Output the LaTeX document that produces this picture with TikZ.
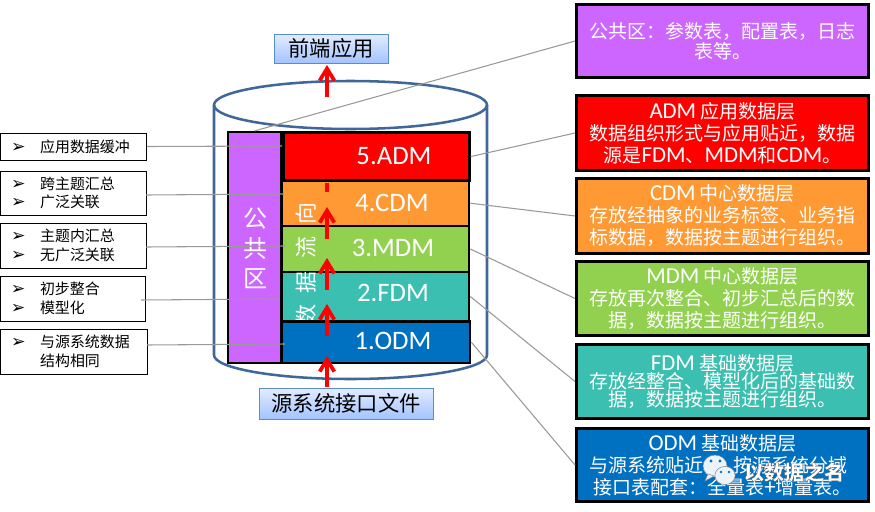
\documentclass[tikz,border=0pt]{standalone}
\usepackage{fontspec}
\usetikzlibrary{arrows.meta,shadows}
\setmainfont{Noto Sans CJK SC}
\newfontfamily\lat{Carlito}
\newfontfamily\latb[Scale=1.2]{Carlito}
\newfontfamily\dejavu{DejaVu Sans}
\newcommand{\bul}{\smash{\makebox[21.75pt][l]{\dejavu\fontsize{13pt}{9pt}\selectfont ➢}}}
\definecolor{cpurple}{HTML}{CC66FF}
\definecolor{cred}{HTML}{FF0000}
\definecolor{corange}{HTML}{FF9933}
\definecolor{cgreen}{HTML}{92D050}
\definecolor{cteal}{HTML}{3BBFB0}
\definecolor{cblue}{HTML}{0070C0}
\definecolor{cyl}{HTML}{3F6797}
\definecolor{gline}{HTML}{999999}
\definecolor{gtop}{HTML}{E2ECFF}
\definecolor{gbot}{HTML}{A3C4FF}
\definecolor{gedge}{HTML}{5B8CC8}
\tikzset{
  lay/.style={draw=black,line width=1.9pt,inner sep=0pt},
  laytext/.style={text=white,inner sep=0pt,font=\lat\fontsize{20pt}{22pt}\selectfont},
  info/.style={draw=black,line width=2.2pt,inner sep=0pt,text=white,align=center,minimum width=219pt,
     font=\fontsize{14.25pt}{16.5pt}\selectfont,
     drop shadow={shadow xshift=0.8pt,shadow yshift=-0.8pt,opacity=.35}},
  side/.style={draw=black,line width=0.75pt,inner xsep=8pt,inner ysep=0pt,align=left,
     font=\fontsize{11.2pt}{13.9pt}\selectfont},
  grad/.style={draw=gedge,line width=0.75pt,top color=gtop,bottom color=gbot,inner sep=0pt,text=black,
     font=\fontsize{16pt}{18pt}\selectfont,
     drop shadow={shadow xshift=0.8pt,shadow yshift=-0.8pt,opacity=.35}},
  flow/.style={draw=red,line width=2.8pt,-{Straight Barb[length=9pt,width=11pt]}},
  flowplain/.style={draw=red,line width=2.8pt},
  lead/.style={draw=gline,line width=0.8pt},
  cylline/.style={draw=cyl,line width=1.9pt},
}
\begin{document}
\begin{tikzpicture}[x=0.75pt,y=-0.75pt]
\useasboundingbox (0,0) rectangle (875,511);
% cylinder
\draw[cylline] (214,105) -- (214,355) arc[start angle=180,end angle=360,x radius=102.375pt,y radius=18pt] -- (487,105);
\draw[cylline] (350.5,105) ellipse[x radius=102.375pt,y radius=18pt];
% frontend and source boxes
\node[grad,minimum width=85.5pt,minimum height=21.75pt] (front) at (331,48.5) {前端应用};
\node[grad,minimum width=130.5pt,minimum height=23.25pt] (src) at (346,403.5) {源系统接口文件};
% public column
\node[draw=black,line width=1.6pt,fill=cpurple,minimum width=39.75pt,minimum height=173.25pt,inner sep=0pt] (pub) at (254.5,247.5) {};
\node[text=white,align=center,font=\fontsize{18pt}{22.5pt}\selectfont,inner sep=0pt] (pubt) at (255,248) {公\\共\\区};
% layers
\node[lay,fill=cred,minimum width=139.4pt,minimum height=35.9pt] (adm) at (376.4,156.6) {};
\node[lay,fill=corange,minimum width=140.6pt,minimum height=34.1pt] (cdm) at (375.3,203.2) {};
\node[lay,fill=cgreen,minimum width=140.6pt,minimum height=34.5pt] (mdm) at (375.3,249) {};
\node[lay,fill=cteal,minimum width=140.6pt,minimum height=36.7pt] (fdm) at (375.3,296.5) {};
% vertical flow text
\node[rotate=90,text=white,inner sep=0pt,font=\fontsize{16.5pt}{17pt}\selectfont] (flowt) at (306,264) {数\hspace{8.25pt}据\hspace{9.75pt}流\hspace{9pt}向};
\node[lay,fill=cblue,minimum width=141.4pt,minimum height=31.1pt] (odm) at (375.8,342.2) {};
\node[laytext] (admt) at (394,156) {5.ADM};
\node[laytext] (cdmt) at (392,203) {4.CDM};
\node[laytext] (mdmt) at (393,248) {3.MDM};
\node[laytext] (fdmt) at (393,293) {2.FDM};
\node[laytext] (odmt) at (393,341) {1.ODM};
% red arrows
\coordinate (a0) at (327,387);\coordinate (a1) at (327,356);
\coordinate (b0) at (327,336);\coordinate (b1) at (327,304);
\coordinate (c0) at (327,290);\coordinate (c1) at (327,258);
\coordinate (d0) at (327,239);\coordinate (d1) at (327,207);
\coordinate (e0) at (327,192);\coordinate (e1) at (327,182.5);
\coordinate (f0) at (327,97);\coordinate (f1) at (327,65);
\draw[flow] (a0) -- (a1);
\draw[flow] (b0) -- (b1);
\draw[flow] (c0) -- (c1);
\draw[flow] (d0) -- (d1);
\draw[flowplain] (e0) -- (e1);
\draw[flow] (f0) -- (f1);
% left boxes
\node[side,minimum width=109.5pt,minimum height=20.25pt,text width=93.5pt] (l1) at (73.5,146.5) {\bul 应用数据缓冲};
\node[side,minimum width=109.5pt,minimum height=33pt,text width=93.5pt] (l2) at (73.5,193) {\bul 跨主题汇总\\\bul 广泛关联};
\node[side,minimum width=109.5pt,minimum height=33.75pt,text width=93.5pt] (l3) at (73.5,245.5) {\bul 主题内汇总\\\bul 无广泛关联};
\node[side,minimum width=109pt,minimum height=33.75pt,text width=93pt] (l4) at (73,298.5) {\bul 初步整合\\\bul 模型化};
\node[side,minimum width=110.25pt,minimum height=33.75pt,text width=94.25pt] (l5) at (74,351.5) {\bul 与源系统数据\\\hspace*{21.75pt}结构相同};
% right boxes
\node[info,fill=cpurple,minimum height=54.75pt,font=\fontsize{14.25pt}{15pt}\selectfont] (rpub) at (722.5,41) {公共区：参数表，配置表，日志\\表等。};
\node[info,fill=cred,minimum height=56.25pt] (radm) at (722.5,133) {{\latb ADM} 应用数据层\\数据组织形式与应用贴近，数据\\源是{\latb FDM}、{\latb MDM}和{\latb CDM}。};
\node[info,fill=corange,minimum height=56.25pt] (rcdm) at (722.5,216) {{\latb CDM} 中心数据层\\存放经抽象的业务标签、业务指\\标数据，数据按主题进行组织。};
\node[info,fill=cgreen,minimum height=55.5pt] (rmdm) at (722.5,298.5) {{\latb MDM} 中心数据层\\存放再次整合、初步汇总后的数\\据，数据按主题进行组织。};
\node[info,fill=cteal,minimum height=55.5pt,font=\fontsize{14.25pt}{13.6pt}\selectfont] (rfdm) at (722.5,381.5) {{\latb FDM} 基础数据层\\存放经整合、模型化后的基础数\\据，数据按主题进行组织。};
\node[info,fill=cblue,minimum height=54.75pt] (rodm) at (722.5,465) {{\latb ODM} 基础数据层\\与源系统贴近，\hspace{8pt}按源系统分域\hspace*{6pt}\mbox{}\\接口表配套：全量表{\latb +}增量表。};
% leader lines
\coordinate (t1) at (282,146);\coordinate (t2) at (284,194);\coordinate (t3) at (285,246);
\coordinate (t4) at (279,299);\coordinate (t5) at (285,344);
\coordinate (s2) at (146,195);\coordinate (s3) at (146,247);\coordinate (s4) at (141,300);\coordinate (s5) at (147,345);
\draw[lead] (l1.east) -- (t1);
\draw[lead] (s2) -- (t2);
\draw[lead] (s3) -- (t3);
\draw[lead] (s4) -- (t4);
\draw[lead] (s5) -- (t5);
\draw[lead] (pub.north) -- (rpub.west);
\draw[lead] (adm.east) -- (radm.west);
\draw[lead] (cdm.east) -- (rcdm.west);
\draw[lead] (mdm.east) -- (rmdm.west);
\draw[lead] (fdm.east) -- (rfdm.west);
\draw[lead] (odm.east) -- (rodm.west);
% watermark
\fill[white!92!cblue,draw=black!45,line width=0.4pt] (715,466) ellipse[x radius=9pt,y radius=8.2pt];
\fill[white!92!cblue,draw=black!45,line width=0.4pt] (708,474) -- (705,481) -- (714,476) -- cycle;
\fill[white!92!cblue,draw=black!45,line width=0.4pt] (725,475.5) ellipse[x radius=7.6pt,y radius=6.8pt];
\fill[cblue] (711,461) circle[radius=1.2pt];
\fill[cblue] (720,461) circle[radius=1.2pt];
\fill[cblue] (721,472) circle[radius=1pt];
\fill[cblue] (729,472) circle[radius=1pt];
\node[text=white,inner sep=0pt,font=\bfseries\fontsize{15pt}{16pt}\selectfont] (wm) at (794,472) {\special{pdf:code 2 Tr 0.15 w 0.3 G}以数据之名\special{pdf:code 0 Tr 0.75 w}};
\end{tikzpicture}
\end{document}
